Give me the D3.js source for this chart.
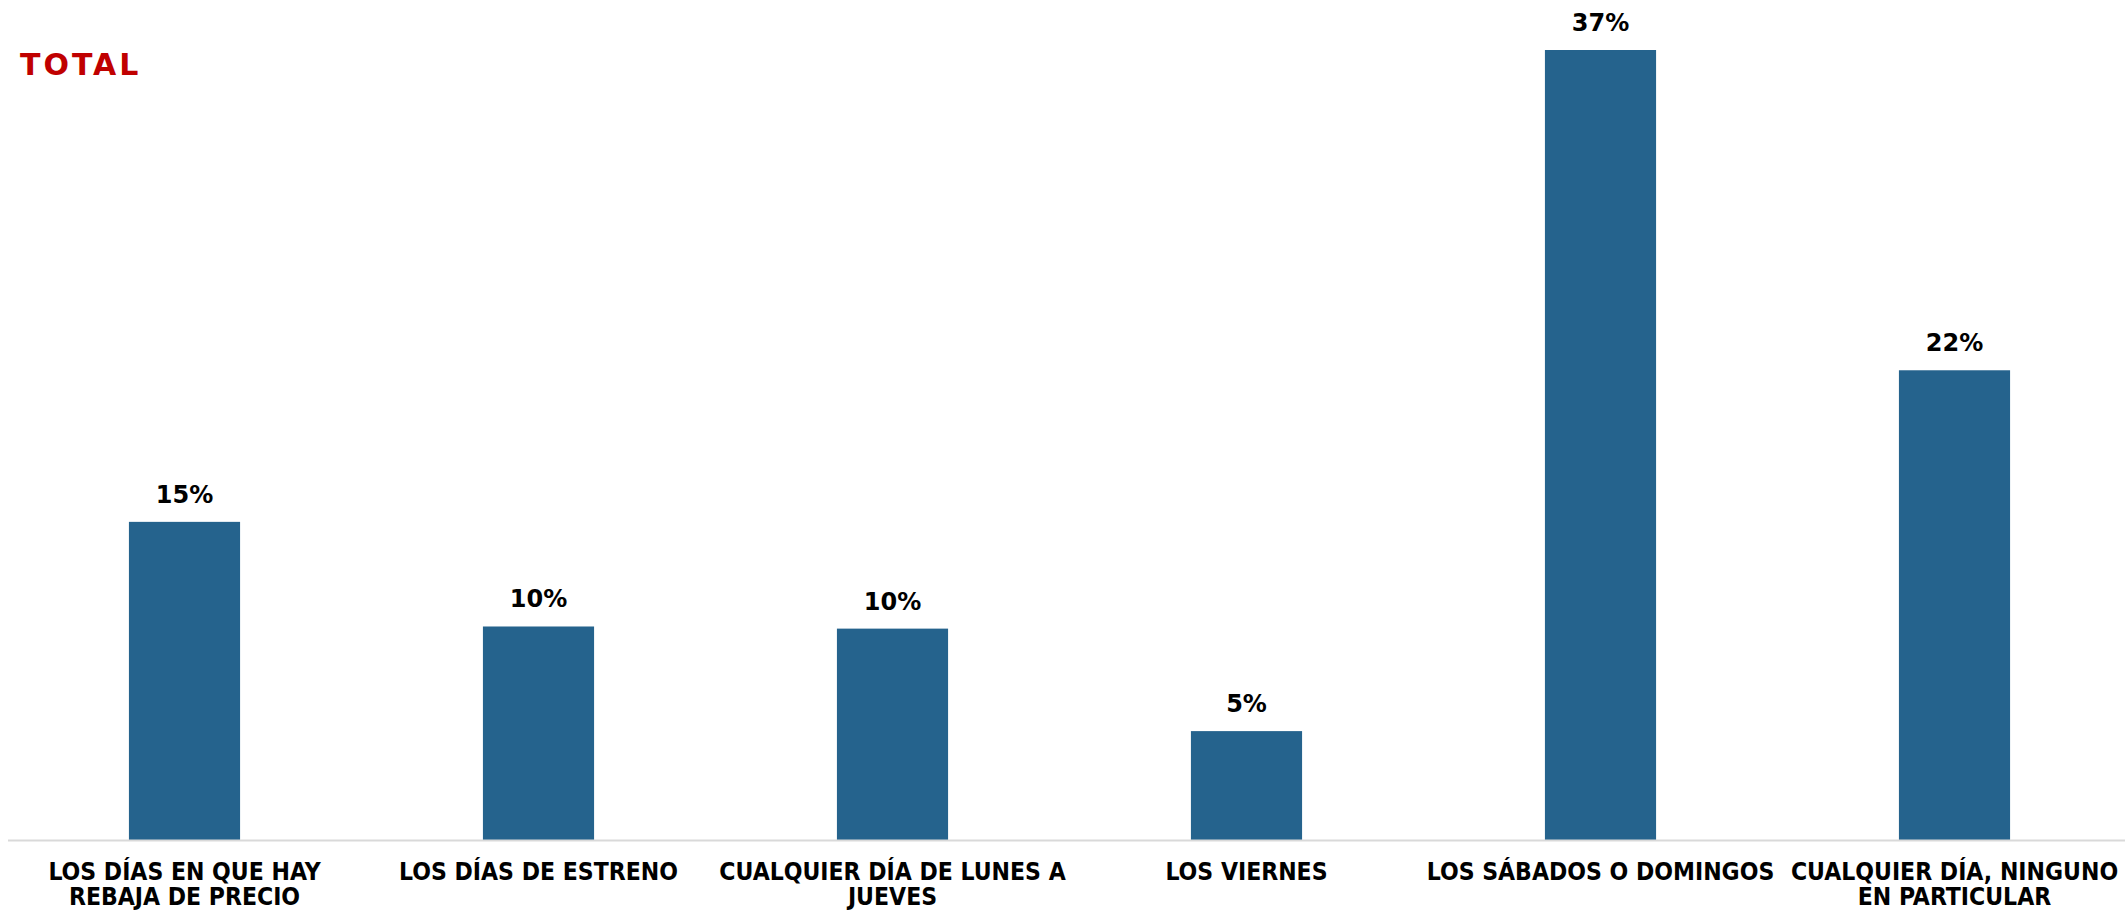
<!DOCTYPE html>
<html>
<head>
<meta charset="utf-8">
<script src="https://cdn.jsdelivr.net/npm/d3@7"></script>
<style>
  body { margin: 0; background: #fff; }
  svg { display: block; }
</style>
</head>
<body>
<svg id="chart" width="2125" height="911"></svg>
<script>
// Data
const categories = [
  "LOS DÍAS EN QUE HAY REBAJA DE PRECIO",
  "LOS DÍAS DE ESTRENO",
  "CUALQUIER DÍA DE LUNES A JUEVES",
  "LOS VIERNES",
  "LOS SÁBADOS O DOMINGOS",
  "CUALQUIER DÍA, NINGUNO EN PARTICULAR"
];
// how each tick label breaks into lines
const labelLines = [
  ["LOS DÍAS EN QUE HAY", "REBAJA DE PRECIO"],
  ["LOS DÍAS DE ESTRENO"],
  ["CUALQUIER DÍA DE LUNES A", "JUEVES"],
  ["LOS VIERNES"],
  ["LOS SÁBADOS O DOMINGOS"],
  ["CUALQUIER DÍA, NINGUNO", "EN PARTICULAR"]
];
const values = [14.9, 10.0, 9.9, 5.1, 37.0, 22.0];
const title = "TOTAL";

const svg = d3.select("#chart");
const width = 2125, height = 911;
const baseY = 840;

const x = d3.scaleBand()
  .domain(categories)
  .range([7.5, 2131.5])
  .paddingInner(0.686)
  .paddingOuter(0.343);

const y = d3.scaleLinear()
  .domain([0, 37])
  .range([baseY, 50]);

// bars
svg.append("g").selectAll("rect")
  .data(values)
  .join("rect")
  .attr("x", (d, i) => x(categories[i]))
  .attr("y", d => y(d))
  .attr("width", x.bandwidth())
  .attr("height", d => baseY - y(d))
  .attr("fill", "#25638d");

// value labels
svg.append("g").selectAll("text")
  .data(values)
  .join("text")
  .attr("x", (d, i) => x(categories[i]) + x.bandwidth() / 2)
  .attr("y", d => y(d) - 19)
  .attr("text-anchor", "middle")
  .style("font-family", "'DejaVu Sans', sans-serif")
  .style("font-weight", "bold")
  .style("font-size", "24px")
  .style("fill", "#000")
  .text(d => Math.round(d) + "%");

// x axis
const xAxis = svg.append("g")
  .attr("transform", `translate(0,${baseY})`)
  .call(d3.axisBottom(x).tickSize(0).tickFormat(""));
xAxis.select(".domain")
  .attr("stroke", "#d9d9d9")
  .attr("stroke-width", 2);

// category labels, one tspan per line
xAxis.selectAll(".tick text").remove();
xAxis.selectAll(".tick").each(function (d, i) {
  const t = d3.select(this).append("text")
    .attr("text-anchor", "middle")
    .attr("y", 40)
    .style("font-family", "'DejaVu Sans Condensed', 'DejaVu Sans', sans-serif")
    .style("font-stretch", "condensed")
    .style("font-weight", "bold")
    .style("font-size", "24.5px")
    .style("fill", "#000");
  labelLines[i].forEach((line, k) => {
    t.append("tspan")
      .attr("x", 0)
      .attr("dy", k === 0 ? 0 : 25)
      .text(line);
  });
});

// title in the corner
svg.append("text")
  .attr("x", 20)
  .attr("y", 75)
  .style("font-family", "'DejaVu Sans', sans-serif")
  .style("font-weight", "bold")
  .style("font-size", "30px")
  .style("letter-spacing", "3px")
  .style("fill", "#c00000")
  .text(title);
</script>
</body>
</html>
